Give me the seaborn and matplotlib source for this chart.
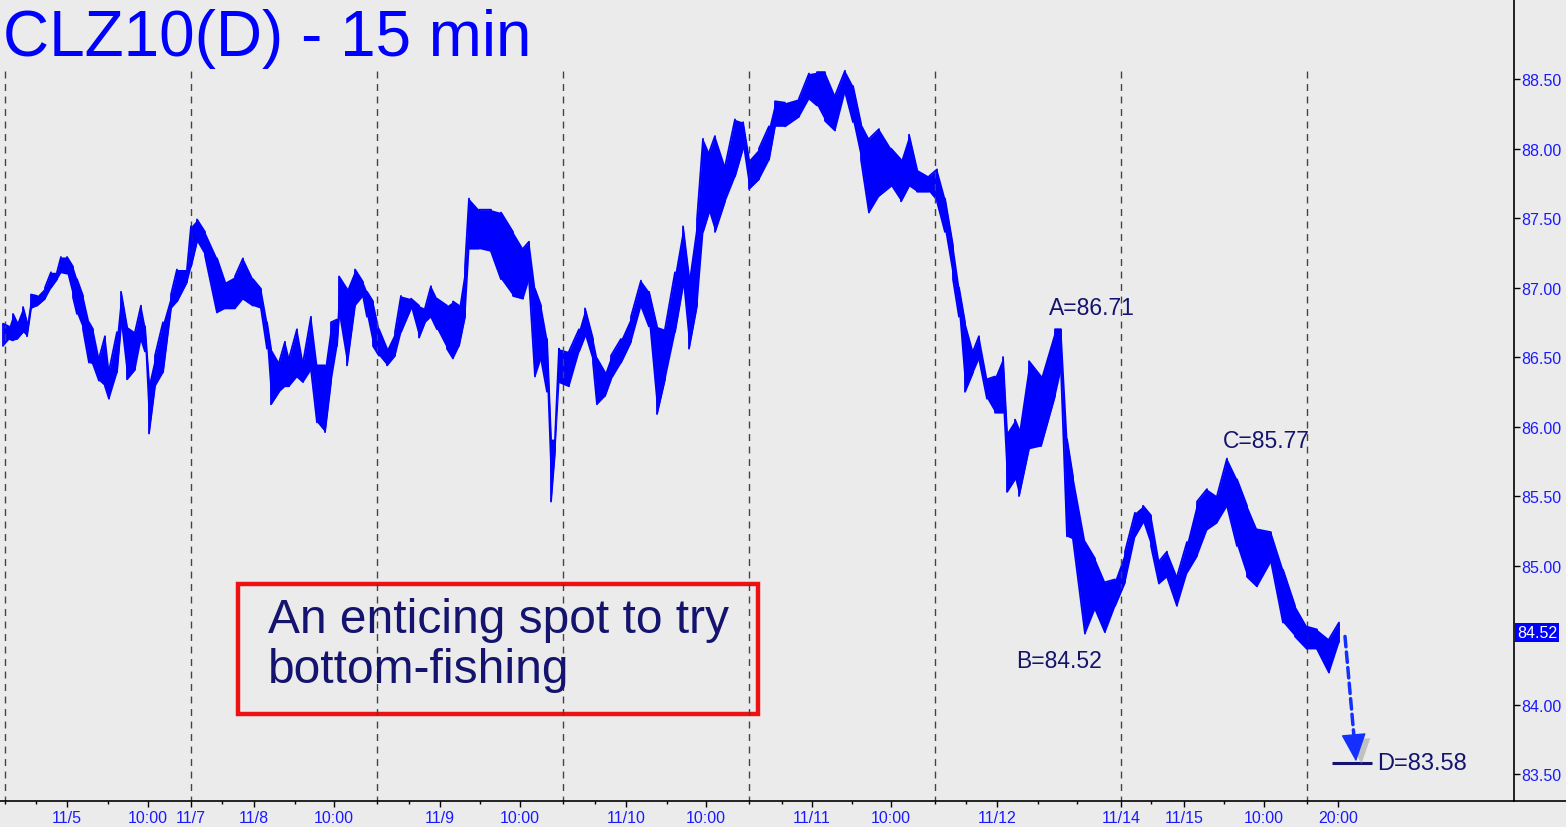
import matplotlib
matplotlib.use('Agg')
import matplotlib.pyplot as plt
import matplotlib.patheffects as pe
from matplotlib.patches import Rectangle
from matplotlib.lines import Line2D
import seaborn as sns
import pandas as pd

# 15-min bar index (2 px per bar on the original), with high / low of each sampled stretch
bars = [-1, 2, 4, 6, 9, 11, 13, 16, 20, 23,
        26, 28, 31, 34, 36, 39, 42, 44, 47, 50,
        52, 56, 58, 61, 65, 68, 70, 72, 75, 79,
        83, 86, 91, 93, 96, 100, 106, 110, 115, 119,
        124, 128, 131, 133, 137, 140, 142, 146, 149, 153,
        156, 160, 163, 166, 167, 171, 175, 179, 181, 184,
        187, 191, 195, 198, 203, 207, 210, 213, 216, 221,
        224, 227, 230, 232, 237, 243, 248, 254, 259, 262,
        265, 268, 271, 273, 275, 277, 282, 287, 290, 294,
        296, 300, 303, 308, 313, 318, 322, 326, 330, 335,
        339, 342, 346, 349, 352, 355, 360, 365, 369, 372,
        377, 382, 385, 390, 397, 402, 406, 410, 415, 420,
        424, 428, 432, 437, 443, 448, 452, 456, 462, 466,
        470, 474, 477, 480, 484, 487, 491, 495, 499, 501,
        505, 507, 512, 518, 525, 528, 531, 534, 540, 545,
        550, 555, 560, 565, 569, 573, 577, 581, 586, 591,
        596, 601, 606, 611, 616, 621, 626, 633, 639, 645,
        651, 656, 662, 667]

hi = [86.74, 86.72, 86.81, 86.75, 86.86, 86.75, 86.95, 86.94, 87.00, 87.11,
      87.11, 87.22, 87.22, 87.15, 87.06, 86.94, 86.75, 86.70, 86.49, 86.65,
      86.40, 86.68, 86.97, 86.72, 86.68, 86.87, 86.72, 86.32, 86.51, 86.75,
      86.95, 87.13, 87.13, 87.44, 87.49, 87.40, 87.21, 87.04, 87.08, 87.21,
      87.06, 86.99, 86.75, 86.56, 86.46, 86.61, 86.49, 86.70, 86.46, 86.79,
      86.44, 86.44, 86.75, 86.77, 87.08, 86.99, 87.13, 87.04, 86.97, 86.90,
      86.70, 86.56, 86.68, 86.94, 86.92, 86.87, 86.85, 87.01, 86.92, 86.87,
      86.90, 86.87, 87.15, 87.64, 87.56, 87.56, 87.54, 87.40, 87.28, 87.33,
      86.99, 86.87, 86.63, 85.91, 85.91, 86.56, 86.54, 86.70, 86.85, 86.63,
      86.49, 86.39, 86.51, 86.63, 86.79, 87.05, 86.97, 86.72, 86.70, 87.11,
      87.44, 87.08, 87.49, 88.07, 87.97, 88.09, 87.87, 88.21, 88.19, 87.92,
      88.00, 88.16, 88.34, 88.33, 88.36, 88.54, 88.55, 88.55, 88.38, 88.56,
      88.45, 88.18, 88.07, 88.14, 88.00, 87.92, 88.10, 87.85, 87.80, 87.85,
      87.64, 87.30, 87.00, 86.75, 86.54, 86.65, 86.34, 86.36, 86.50, 85.96,
      86.05, 85.98, 86.47, 86.36, 86.70, 86.70, 85.91, 85.64, 85.17, 85.05,
      84.88, 84.90, 85.10, 85.38, 85.43, 85.36, 85.03, 85.10, 84.92, 85.17,
      85.46, 85.55, 85.50, 85.77, 85.62, 85.43, 85.26, 85.24, 84.97, 84.71,
      84.56, 84.54, 84.47, 84.59]

lo = [86.58, 86.63, 86.62, 86.63, 86.68, 86.65, 86.85, 86.87, 86.92, 87.00,
      87.06, 87.11, 87.10, 86.93, 86.81, 86.70, 86.46, 86.45, 86.33, 86.29,
      86.20, 86.39, 86.72, 86.34, 86.41, 86.63, 86.54, 85.95, 86.29, 86.39,
      86.85, 86.90, 87.04, 87.15, 87.33, 87.23, 86.82, 86.85, 86.85, 86.92,
      86.87, 86.85, 86.56, 86.16, 86.25, 86.29, 86.29, 86.36, 86.32, 86.41,
      86.03, 85.96, 86.32, 86.58, 86.79, 86.44, 86.87, 86.94, 86.79, 86.58,
      86.51, 86.44, 86.51, 86.68, 86.85, 86.64, 86.75, 86.79, 86.70, 86.56,
      86.49, 86.58, 86.79, 87.28, 87.28, 87.26, 87.06, 86.94, 86.92, 87.06,
      86.36, 86.49, 86.25, 85.46, 85.82, 86.32, 86.29, 86.54, 86.65, 86.46,
      86.16, 86.22, 86.34, 86.46, 86.61, 86.87, 86.72, 86.09, 86.34, 86.68,
      87.01, 86.56, 86.87, 87.40, 87.54, 87.40, 87.62, 87.80, 88.00, 87.71,
      87.78, 87.92, 88.16, 88.16, 88.23, 88.36, 88.31, 88.20, 88.13, 88.41,
      88.19, 87.92, 87.54, 87.66, 87.73, 87.62, 87.73, 87.69, 87.69, 87.62,
      87.40, 87.06, 86.79, 86.25, 86.39, 86.49, 86.20, 86.10, 86.10, 85.53,
      85.62, 85.50, 85.84, 85.86, 86.22, 86.41, 85.21, 85.19, 84.51, 84.69,
      84.52, 84.71, 84.88, 85.21, 85.31, 85.14, 84.87, 84.92, 84.71, 84.95,
      85.07, 85.26, 85.31, 85.43, 85.14, 84.92, 84.85, 85.03, 84.59, 84.49,
      84.40, 84.40, 84.23, 84.45]

session_starts = [0, 93, 186, 279, 372, 465, 558, 651]
major_ticks = [31, 71.5, 93, 124.5, 164.5, 217.5, 257.5, 310.5, 350.5, 403.5,
               443, 496, 558, 589.5, 629.5, 666.5]
major_labels = ['11/5', '10:00', '11/7', '11/8', '10:00', '11/9', '10:00', '11/10',
                '10:00', '11/11', '10:00', '11/12', '11/14', '11/15', '10:00', '20:00']
minor_ticks = [0, 15.5, 51.5, 108.5, 145, 186, 202, 237.5, 279, 295, 331, 372,
               388.5, 423.5, 465, 480.5, 516.5, 536, 573, 609.5, 651]
# 84.50 is hidden behind the last-price tag on the original
price_ticks = [83.5, 84.0, 85.0, 85.5, 86.0, 86.5, 87.0, 87.5, 88.0, 88.5]

# ABCD pattern points
pivot_labels = ['A=86.71', 'B=84.52', 'C=85.77']
pivot_bars = [543.5, 527, 630.5]
pivot_prices = [86.86, 84.32, 85.90]
last_price = 84.52
target_price = 83.58

BLUE = '#0000ff'
NAVY = '#14146e'
BG = '#ebebeb'

sns.set_theme(style='white')
plt.rcParams['font.family'] = ['Liberation Sans', 'DejaVu Sans']

fig = plt.figure(figsize=(15.66, 8.28), dpi=100, facecolor=BG)
ax = fig.add_axes([0, 26 / 828, 1514 / 1566, 802 / 828])
ax.set_facecolor(BG)

# session separators
ax.vlines(session_starts, 83.0, 88.57, colors='#444444', linestyles=(0, (5, 4)), lw=1)

# price band: filled range plus a zig-zag through highs and lows
zx, zy = [], []
for i, (b, h, l) in enumerate(zip(bars, hi, lo)):
    zx += [b, b]
    zy += [l, h] if i % 2 == 0 else [h, l]
df = pd.DataFrame({'bar': zx, 'price': zy})
ax.fill_between(bars, lo, hi, color=BLUE, lw=0)
sns.lineplot(data=df, x='bar', y='price', sort=False, estimator=None,
             color=BLUE, lw=1.3, ax=ax)

# annotations
for lab, bx, py in zip(pivot_labels, pivot_bars, pivot_prices):
    ax.text(bx, py, lab, ha='center', va='center', fontsize=16.5, color=NAVY)

# projected leg C->D: dashed shaft plus a solid head, both with a soft shadow
shadow = [pe.SimplePatchShadow(offset=(4, -3), shadow_rgbFace='#999999', alpha=0.5), pe.Normal()]
shaft = ax.annotate('', xy=(674.8, 83.72), xytext=(670, last_price - 0.03),
                    arrowprops=dict(arrowstyle='-', color='#1430ff', lw=2.5,
                                    linestyle=(0, (3, 1.5)), shrinkA=0, shrinkB=0))
shaft.arrow_patch.set_path_effects(shadow)
head = ax.annotate('', xy=(675.5, target_price + 0.01), xytext=(674.6, 83.74),
                   arrowprops=dict(arrowstyle='-|>,head_length=0.9,head_width=0.4',
                                   mutation_scale=20, color='#1430ff', lw=1,
                                   shrinkA=0, shrinkB=0))
head.arrow_patch.set_path_effects(shadow)
ax.hlines(target_price, 663.5, 683.5, colors=NAVY, lw=2.2)
ax.text(686, target_price, 'D=83.58', ha='left', va='center', fontsize=17, color=NAVY)

ax.add_patch(Rectangle((116.5, 83.932), 260, 0.935, fill=False, ec='#ee1111', lw=3.2))
ax.text(131.5, 84.43, 'An enticing spot to try\nbottom-fishing', ha='left', va='center',
        fontsize=34.5, color=NAVY, linespacing=1.15)

ax.text(1.002, last_price, '84.52', transform=ax.get_yaxis_transform(), ha='left', va='center',
        fontsize=11.5, color='white',
        bbox=dict(boxstyle='square,pad=0.12', fc=BLUE, ec='none'))

# axes
ax.set_xlim(-2.5, 754.5)
ax.set_ylim(83.306, 89.076)
ax.set_xlabel('')
ax.set_ylabel('')
ax.yaxis.tick_right()
ax.set_yticks(price_ticks)
ax.set_yticklabels([f'{p:.2f}' for p in price_ticks])
ax.set_xticks(major_ticks)
ax.set_xticklabels(major_labels)
ax.set_xticks(minor_ticks, minor=True)
ax.tick_params(axis='y', direction='out', length=4.3, width=1, color='black',
               labelcolor='#1a1aff', labelsize=11.5, pad=1, right=True, left=False)
ax.tick_params(axis='x', which='major', direction='out', length=4.5, width=1, color='black',
               labelcolor='#1a1aff', labelsize=11.5, pad=2, bottom=True)
ax.tick_params(axis='x', which='minor', direction='out', length=2.5, width=1, color='black', bottom=True)
for side in ['left', 'top']:
    ax.spines[side].set_visible(False)
for side in ['right', 'bottom']:
    ax.spines[side].set_color('black')
    ax.spines[side].set_linewidth(1.2)
ax.grid(False)

fig.add_artist(Line2D([1514 / 1566, 1], [26 / 828, 26 / 828], color='black', lw=1.2))
fig.text(3 / 1566, 1 - 9 / 828, 'CLZ10(D) - 15 min', ha='left', va='top',
         fontsize=46, color=BLUE)

fig.savefig('out.png', dpi=100, facecolor=BG)
